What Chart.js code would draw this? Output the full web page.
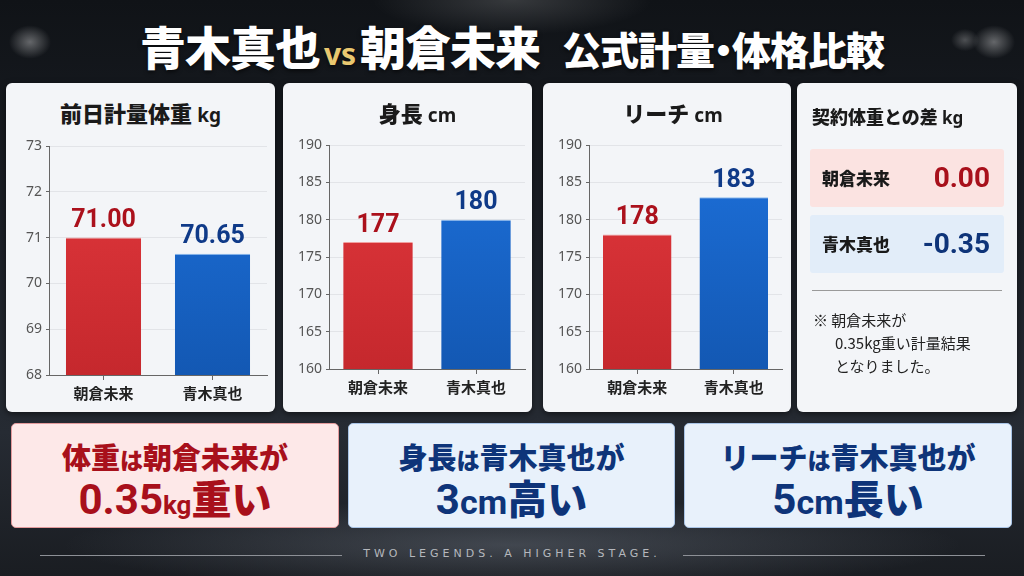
<!DOCTYPE html>
<html lang="ja">
<head>
<meta charset="utf-8">
<title>青木真也 vs 朝倉未来 公式計量・体格比較</title>
<script src="https://cdn.jsdelivr.net/npm/chart.js@4.4.1/dist/chart.umd.min.js"></script>
<style>
  html, body { margin: 0; padding: 0; }
  body {
    width: 1024px; height: 576px; overflow: hidden; position: relative;
    font-family: "Noto Sans CJK JP", "Noto Sans", sans-serif;
    background:
      radial-gradient(ellipse 30px 24px at 30px 42px, rgba(255,255,255,0.35), rgba(255,255,255,0) 70%),
      radial-gradient(ellipse 30px 24px at 994px 42px, rgba(255,255,255,0.35), rgba(255,255,255,0) 70%),
      radial-gradient(ellipse 20px 16px at 965px 40px, rgba(255,255,255,0.25), rgba(255,255,255,0) 70%),
      radial-gradient(ellipse 200px 50px at 512px 0px, rgba(255,255,255,0.16), rgba(255,255,255,0) 70%),
      radial-gradient(ellipse 600px 60px at 512px 545px, rgba(150,160,175,0.30), rgba(0,0,0,0) 75%),
      linear-gradient(180deg, #101317 0%, #1b1f26 40%, #262b33 75%, #1a1d22 100%);
  }
  .title {
    position: absolute; left: 0; top: 16px; width: 1024px; text-align: center;
    color: #fff; font-size: 46px; font-weight: 900; letter-spacing: -1px; line-height: 58px;
    text-shadow: 0 2px 4px rgba(0,0,0,0.6);
  }
  .title .vs { color: #e9c870; font-size: 30px; font-family: "Noto Sans", sans-serif; font-weight: 700; margin: 0 4px; letter-spacing: 0; }
  .title .gap { display: inline-block; width: 22px; }
  .title .small { font-size: 39px; letter-spacing: -1px; }
  .title .dot { margin: 0 -10px; }
  .panel {
    position: absolute; top: 83px; height: 329px; background: #f3f5f8;
    border-radius: 6px; box-shadow: 0 2px 6px rgba(0,0,0,0.5);
  }
  .panel .ptitle {
    position: absolute; left: 0; top: 12px; width: 100%; text-align: center;
    font-size: 22px; font-weight: 900; color: #1a1a1a; line-height: 34px;
  }
  .panel .ptitle .unit { font-family: "Noto Sans", sans-serif; font-weight: 700; font-size: 19px; }
  .panel .cv { position: absolute; left: 0; top: 0; width: 100%; height: 100%; }
  .diff-title {
    position: absolute; left: 15px; top: 20px; font-size: 18px; font-weight: 900; color: #1a1a1a;
  }
  .diff-title .unit { font-family: "Noto Sans", sans-serif; font-weight: 700; font-size: 17px; }
  .row {
    position: absolute; left: 13px; width: 194px; height: 58px; border-radius: 3px;
  }
  .row .name { position: absolute; left: 12px; top: 0; line-height: 58px; font-size: 17px; font-weight: 900; color: #1a1a1a; }
  .row .val { position: absolute; right: 14px; top: 0; line-height: 58px; font-size: 28px; font-weight: 700; font-family: "Roboto", "Noto Sans", sans-serif; }
  .divider { position: absolute; left: 15px; width: 190px; top: 207px; height: 1px; background: #9a9a9a; }
  .note { position: absolute; left: 16px; top: 225px; font-size: 15px; line-height: 23px; color: #222; }
  .note .indent { padding-left: 22px; display: block; }
  .box {
    position: absolute; top: 423px; height: 105px; border-radius: 5px; text-align: center;
    box-sizing: border-box; font-weight: 900;
  }
  .box .l1 { position: absolute; left: 0; width: 100%; top: 14px; font-size: 29px; line-height: 36px; }
  .box .l2 { position: absolute; left: 0; width: 100%; top: 48px; font-size: 40px; line-height: 50px; }
  .box .s { font-size: 23px; }
  .box .num { font-family: "Roboto", "Noto Sans", sans-serif; font-weight: 700; font-size: 42px; }
  .box .unitk { font-family: "Roboto", "Noto Sans", sans-serif; font-weight: 700; font-size: 26px; }
  .box .unitc { font-family: "Roboto", "Noto Sans", sans-serif; font-weight: 700; font-size: 34px; }
  .red { color: #a8101b; }
  .blue { color: #0e3479; }
  .footer {
    position: absolute; left: 0; top: 547px; width: 1024px; text-align: center;
    font-family: "DejaVu Sans", sans-serif; font-size: 11px; letter-spacing: 4px; color: #b5b8bd;
  }
  .fline { position: absolute; top: 555px; height: 1px; background: #8d9096; }
</style>
</head>
<body>

<div class="title">青木真也<span class="vs">vs</span>朝倉未来<span class="gap"></span><span class="small">公式計量<span class="dot">・</span>体格比較</span></div>

<div class="panel" style="left:6px;width:269px;">
  <div class="ptitle">前日計量体重 <span class="unit">kg</span></div>
  <div class="cv"><canvas id="weightChart"></canvas></div>
</div>
<div class="panel" style="left:283px;width:249px;">
  <div class="ptitle" style="padding-left:20px;box-sizing:border-box;">身長 <span class="unit">cm</span></div>
  <div class="cv"><canvas id="heightChart"></canvas></div>
</div>
<div class="panel" style="left:543px;width:248px;">
  <div class="ptitle" style="padding-left:12px;box-sizing:border-box;">リーチ <span class="unit">cm</span></div>
  <div class="cv"><canvas id="reachChart"></canvas></div>
</div>

<div class="panel" style="left:797px;width:220px;">
  <div class="diff-title">契約体重との差 <span class="unit">kg</span></div>
  <div class="row" style="top:66px;background:#fbe3e1;">
    <span class="name" id="diffName0"></span><span class="val red" id="diffVal0"></span>
  </div>
  <div class="row" style="top:132px;background:#e2edf9;">
    <span class="name" id="diffName1"></span><span class="val blue" id="diffVal1"></span>
  </div>
  <div class="divider"></div>
  <div class="note">※ 朝倉未来が<span class="indent">0.35kg重い計量結果</span><span class="indent">となりました。</span></div>
</div>

<div class="box red" style="left:11px;width:328px;background:#fde8e8;border:1px solid #e39a9c;">
  <div class="l1">体重<span class="s">は</span>朝倉未来が</div>
  <div class="l2"><span class="num">0.35</span><span class="unitk">kg</span>重い</div>
</div>
<div class="box blue" style="left:348px;width:327px;background:#e8f1fb;border:1px solid #a9c4e6;">
  <div class="l1">身長<span class="s">は</span>青木真也が</div>
  <div class="l2"><span class="num">3</span><span class="unitc">cm</span>高い</div>
</div>
<div class="box blue" style="left:684px;width:328px;background:#e8f1fb;border:1px solid #a9c4e6;">
  <div class="l1">リーチ<span class="s">は</span>青木真也が</div>
  <div class="l2"><span class="num">5</span><span class="unitc">cm</span>長い</div>
</div>

<div class="fline" style="left:40px;width:302px;"></div>
<div class="footer">TWO LEGENDS. A HIGHER STAGE.</div>
<div class="fline" style="left:683px;width:302px;"></div>

<script>
// fighters and values
const fighters = ["朝倉未来", "青木真也"];
const weightKg = [71.00, 70.65];
const heightCm = [177, 180];
const reachCm = [178, 183];
const diffKg = [0.00, -0.35];

// axis ranges / tick steps
const weightTicks = [68, 73, 1];
const heightTicks = [160, 190, 5];
const reachTicks = [160, 190, 5];

const labelColors = ["#ab111c", "#0f3a88"];

// right panel
fighters.forEach((name, i) => {
  document.getElementById("diffName" + i).textContent = name;
  document.getElementById("diffVal" + i).textContent = diffKg[i].toFixed(2);
});

function barGradient(ctx, top, bottom) {
  const chart = ctx.chart;
  const area = chart.chartArea;
  if (!area) return top;
  const g = chart.ctx.createLinearGradient(0, area.top, 0, area.bottom);
  g.addColorStop(0, top);
  g.addColorStop(1, bottom);
  return g;
}

const valueLabels = {
  id: "valueLabels",
  afterDatasetsDraw(chart, args, opts) {
    const ctx = chart.ctx;
    const meta = chart.getDatasetMeta(0);
    const data = chart.data.datasets[0].data;
    ctx.save();
    ctx.font = "bold 25px Roboto, 'Noto Sans', sans-serif";
    ctx.textAlign = "center";
    ctx.textBaseline = "bottom";
    meta.data.forEach((bar, i) => {
      ctx.fillStyle = labelColors[i];
      ctx.fillText(data[i].toFixed(opts.decimals), bar.x, bar.y - 4);
    });
    ctx.restore();
  }
};

function makeChart(id, values, ticks, decimals, box) {
  new Chart(document.getElementById(id), {
    type: "bar",
    data: {
      labels: fighters,
      datasets: [{
        data: values,
        backgroundColor: (c) => c.dataIndex === 0
          ? barGradient(c, "#e2383d", "#c5282d")
          : barGradient(c, "#1d70da", "#1358b3"),
        borderColor: (c) => c.dataIndex === 0 ? "#f0a0a0" : "#8fbdf0",
        borderWidth: { top: 1, left: 0, right: 0, bottom: 0 },
        categoryPercentage: 1,
        barPercentage: box.bar,
      }],
    },
    options: {
      responsive: true,
      maintainAspectRatio: false,
      animation: false,
      layout: { padding: { top: box.top, right: box.right, left: 0, bottom: 0 } },
      plugins: {
        legend: { display: false },
        tooltip: { enabled: false },
        valueLabels: { decimals: decimals },
      },
      scales: {
        y: {
          min: ticks[0],
          max: ticks[1],
          ticks: {
            stepSize: ticks[2],
            color: "#555",
            padding: 4,
            font: { family: "'Noto Sans', sans-serif", size: 14 },
          },
          grid: { color: "#e2e4e8", tickLength: 3, tickColor: "#666" },
          border: { color: "#666", width: 1 },
          afterFit(scale) { scale.width = box.left; },
        },
        x: {
          ticks: {
            color: "#222",
            padding: 4,
            font: { family: "'Noto Sans CJK JP', sans-serif", size: 15, weight: "bold" },
          },
          grid: { display: true, drawOnChartArea: false, offset: false, tickLength: 5, tickColor: "#666" },
          border: { color: "#666", width: 1 },
          afterFit(scale) { scale.height = box.bottom; },
        },
      },
    },
    plugins: [valueLabels],
  });
}

makeChart("weightChart", weightKg, weightTicks, 2, { left: 43, top: 63, right: 8, bottom: 37, bar: 0.69 });
makeChart("heightChart", heightCm, heightTicks, 0, { left: 46, top: 62, right: 7, bottom: 43, bar: 0.71 });
makeChart("reachChart", reachCm, reachTicks, 0, { left: 46, top: 62, right: 9, bottom: 43, bar: 0.71 });
</script>
</body>
</html>
